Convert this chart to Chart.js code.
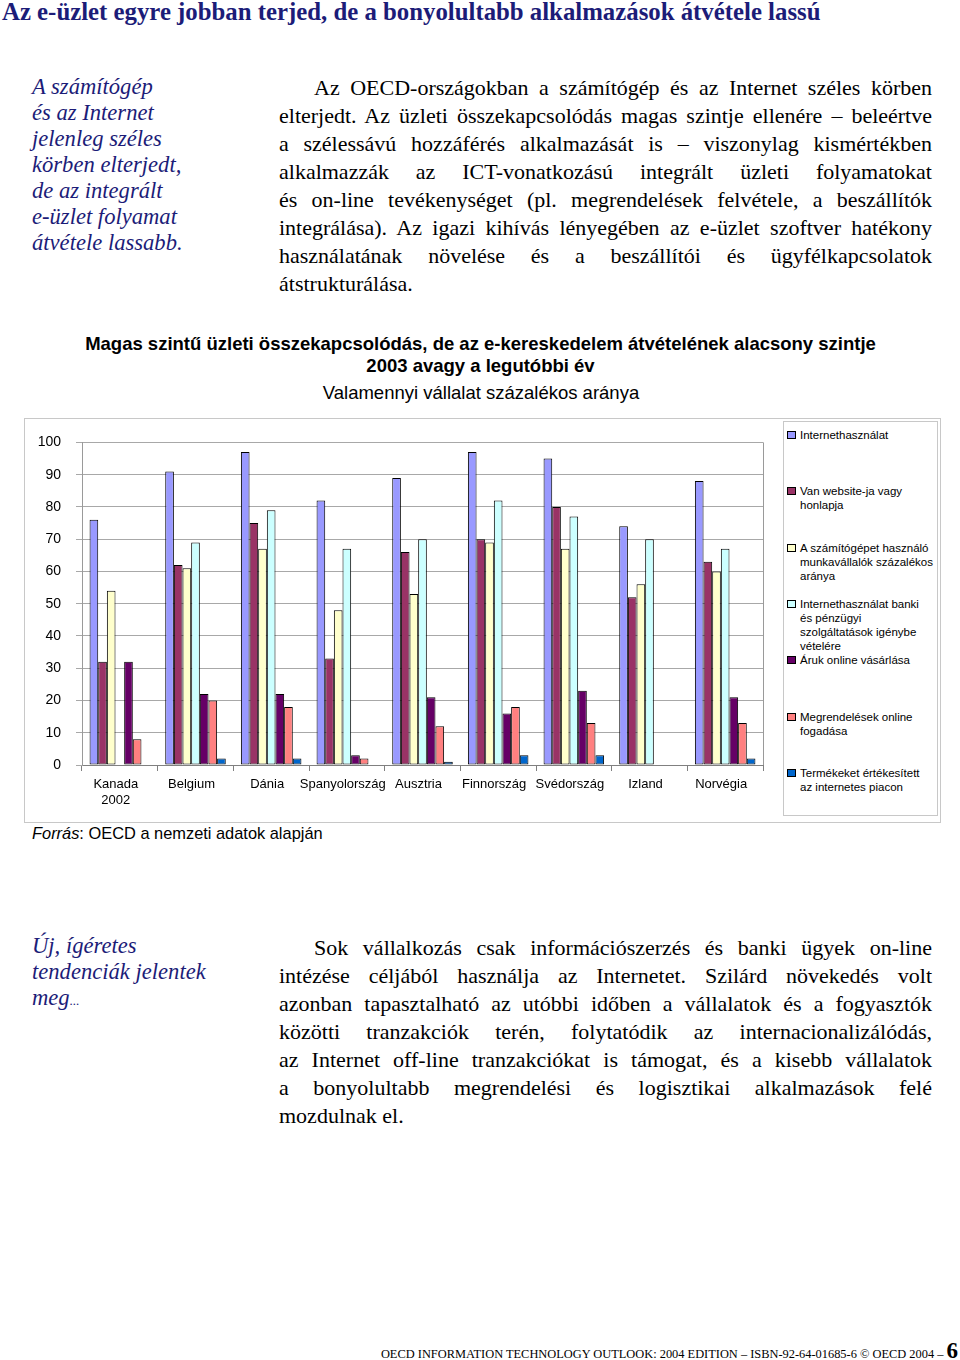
<!DOCTYPE html>
<html>
<head>
<meta charset="utf-8">
<title>Magas szintű üzleti összekapcsolódás</title>
<script src="https://cdn.jsdelivr.net/npm/chart.js@4"></script>
<style>
    body { margin: 0; width: 960px; height: 1360px; position: relative; background: #fff; font-family: 'Liberation Serif', 'Times New Roman', serif; overflow: hidden; }
    .abs { position: absolute; }
    #title { left: 2px; top: 0; font-size: 24.8px; line-height: 23px; font-weight: bold; color: #1c1c78; white-space: nowrap; }
    .side { left: 32px; font-size: 22.6px; line-height: 26px; font-style: italic; color: #1c1c78; white-space: nowrap; }
    .para { left: 279px; width: 653px; font-size: 22px; line-height: 28px; color: #000; }
    .para div { text-align: justify; text-align-last: justify; white-space: nowrap; }
    .para div.first { text-indent: 35px; }
    .para div.last { text-align-last: left; }
    .sans { font-family: 'Liberation Sans', Arial, sans-serif; }
    #chartTitle { left: 0; width: 961px; top: 333px; text-align: center; font-size: 18.5px; line-height: 22px; font-weight: bold; }
    #chartSub { left: 0; width: 962px; top: 383px; text-align: center; font-size: 18.5px; line-height: 20px; }
    #chartBox { left: 24px; top: 418px; width: 915px; height: 403px; border: 1px solid #c8c8c8; }
    #chartWrap { left: 24px; top: 419px; width: 758px; height: 401px; }
    #legendBox { left: 783px; top: 421px; width: 153px; height: 393px; border: 1px solid #c8c8c8; }
    .legItem { left: 787px; font-size: 11.5px; line-height: 14px; white-space: nowrap; }
    .legItem span.sw { position: absolute; left: 0; top: 3px; width: 7px; height: 6px; border: 1px solid #000; }
    .legItem span.tx { position: absolute; left: 13px; top: 0; }
    #source { left: 32px; top: 824px; font-size: 16.4px; line-height: 18px; }
    #footer { right: 2px; top: 1340px; font-size: 12.4px; line-height: 22px; white-space: nowrap; }
    #footer b { font-size: 23px; }
</style>
</head>
<body>
<div id="title" class="abs">Az e-üzlet egyre jobban terjed, de a bonyolultabb alkalmazások átvétele lassú</div>

<div class="abs side" style="top:74px">A számítógép<br>és az Internet<br>jelenleg széles<br>körben elterjedt,<br>de az integrált<br>e-üzlet folyamat<br>átvétele lassabb.</div>
<div class="abs para" style="top:74px">
    <div class="first">Az OECD-országokban a számítógép és az Internet széles körben</div>
    <div>elterjedt. Az üzleti összekapcsolódás magas szintje ellenére – beleértve</div>
    <div>a szélessávú hozzáférés alkalmazását is – viszonylag kismértékben</div>
    <div>alkalmazzák az ICT-vonatkozású integrált üzleti folyamatokat</div>
    <div>és on-line tevékenységet (pl. megrendelések felvétele, a beszállítók</div>
    <div>integrálása). Az igazi kihívás lényegében az e-üzlet szoftver hatékony</div>
    <div>használatának növelése és a beszállítói és ügyfélkapcsolatok</div>
    <div class="last">átstrukturálása.</div>
</div>

<div id="chartTitle" class="abs sans">Magas szintű üzleti összekapcsolódás, de az e-kereskedelem átvételének alacsony szintje<br>2003 avagy a legutóbbi év</div>
<div id="chartSub" class="abs sans">Valamennyi vállalat százalékos aránya</div>

<div id="chartBox" class="abs"></div>
<div id="chartWrap" class="abs"><canvas id="barChart"></canvas></div>
<div id="legendBox" class="abs"></div>
<div id="legend"></div>

<div id="source" class="abs sans"><i>Forrás</i>: OECD a nemzeti adatok alapján</div>

<div class="abs side" style="top:933px">Új, ígéretes<br>tendenciák jelentek<br>meg<span style="font-size:13px">...</span></div>
<div class="abs para" style="top:934px">
    <div class="first">Sok vállalkozás csak információszerzés és banki ügyek on-line</div>
    <div>intézése céljából használja az Internetet. Szilárd növekedés volt</div>
    <div>azonban tapasztalható az utóbbi időben a vállalatok és a fogyasztók</div>
    <div>közötti tranzakciók terén, folytatódik az internacionalizálódás,</div>
    <div>az Internet off-line tranzakciókat is támogat, és a kisebb vállalatok</div>
    <div>a bonyolultabb megrendelési és logisztikai alkalmazások felé</div>
    <div class="last">mozdulnak el.</div>
</div>

<div id="footer" class="abs">OECD INFORMATION TECHNOLOGY OUTLOOK: 2004 EDITION – ISBN-92-64-01685-6 © OECD 2004 – <b>6</b></div>

<script>
    // Countries (Canada is 2002 data)
    const countries = [['Kanada', '2002'], 'Belgium', 'Dánia', 'Spanyolország', 'Ausztria', 'Finnország', 'Svédország', 'Izland', 'Norvégia'];

    const seriesNames = [
        'Internethasználat',
        'Van website-ja vagy honlapja',
        'A számítógépet használó munkavállalók százalékos aránya',
        'Internethasználat banki és pénzügyi szolgáltatások igénybe vételére',
        'Áruk online vásárlása',
        'Megrendelések online fogadása',
        'Termékeket értékesített az internetes piacon'
    ];
    // Legend text is wrapped the same way as in the printed chart
    const legendLines = [
        ['Internethasználat'],
        ['Van website-ja vagy', 'honlapja'],
        ['A számítógépet használó', 'munkavállalók százalékos', 'aránya'],
        ['Internethasználat banki', 'és pénzügyi', 'szolgáltatások igénybe', 'vételére'],
        ['Áruk online vásárlása'],
        ['Megrendelések online', 'fogadása'],
        ['Termékeket értékesített', 'az internetes piacon']
    ];
    const seriesColors = ['#9999ff', '#993366', '#ffffcc', '#ccffff', '#660066', '#ff8080', '#0066cc'];

    // Values (percent of all enterprises); null = no data
    const internetUse    = [76, 91, 97, 82, 89, 97, 95, 74, 88];
    const hasWebsite     = [32, 62, 75, 33, 66, 70, 80, 52, 63];
    const pcEmployees    = [54, 61, 67, 48, 53, 69, 67, 56, 60];
    const bankingUse     = [null, 69, 79, 67, 70, 82, 77, 70, 67];
    const onlinePurchase = [32, 22, 22, 3, 21, 16, 23, null, 21];
    const onlineOrders   = [8, 20, 18, 2, 12, 18, 13, null, 13];
    const marketplace    = [null, 2, 2, null, 1, 3, 3, null, 2];

    const yTicks = [0, 10, 20, 30, 40, 50, 60, 70, 80, 90, 100];

    const seriesValues = [internetUse, hasWebsite, pcEmployees, bankingUse, onlinePurchase, onlineOrders, marketplace];

    // Legend, built from the series arrays
    const legendDiv = document.getElementById('legend');
    legendLines.forEach((lines, i) => {
        const item = document.createElement('div');
        item.className = 'abs legItem sans';
        item.style.top = (428 + i * 56.3) + 'px';
        item.innerHTML = `<span class="sw" style="background:${seriesColors[i]}"></span><span class="tx">${lines.join('<br>')}</span>`;
        legendDiv.appendChild(item);
    });

    // Right edge of the plot area, like the spreadsheet chart
    const frame = {
        id: 'frame',
        afterDraw(chart) {
            const { ctx, chartArea: a } = chart;
            ctx.save();
            ctx.strokeStyle = '#9a9a9a';
            ctx.lineWidth = 1;
            ctx.beginPath();
            ctx.moveTo(a.right + 0.5, a.top);
            ctx.lineTo(a.right + 0.5, a.bottom);
            ctx.stroke();
            ctx.restore();
        }
    };

    Chart.defaults.font.family = "'Liberation Sans', Arial, sans-serif";
    Chart.defaults.color = '#000';

    new Chart(document.getElementById('barChart'), {
        type: 'bar',
        data: {
            labels: countries,
            datasets: seriesValues.map((values, i) => ({
                label: seriesNames[i],
                data: values,
                backgroundColor: seriesColors[i],
                borderColor: '#000',
                borderWidth: 1,
                borderSkipped: false,
                barPercentage: 1.0,
                categoryPercentage: 0.8
            }))
        },
        options: {
            animation: false,
            responsive: true,
            maintainAspectRatio: false,
            layout: { padding: { top: 18, right: 19, left: 0, bottom: 0 } },
            plugins: {
                legend: { display: false },
                tooltip: { enabled: false }
            },
            scales: {
                x: {
                    grid: { display: true, drawOnChartArea: false, offset: true, tickLength: 6, color: '#808080' },
                    border: { color: '#808080' },
                    ticks: { font: { size: 13 }, padding: 6, labelOffset: -4, maxRotation: 0, autoSkip: false },
                    afterFit(scale) { scale.height = 55; }
                },
                y: {
                    min: 0,
                    max: 100,
                    afterBuildTicks(scale) { scale.ticks = yTicks.map(v => ({ value: v })); },
                    grid: { color: '#a8a8a8', tickLength: 6 },
                    border: { color: '#9a9a9a' },
                    ticks: { font: { size: 14 }, padding: 15 },
                    afterFit(scale) { scale.width = 58; }
                }
            }
        },
        plugins: [frame]
    });
</script>
</body>
</html>
